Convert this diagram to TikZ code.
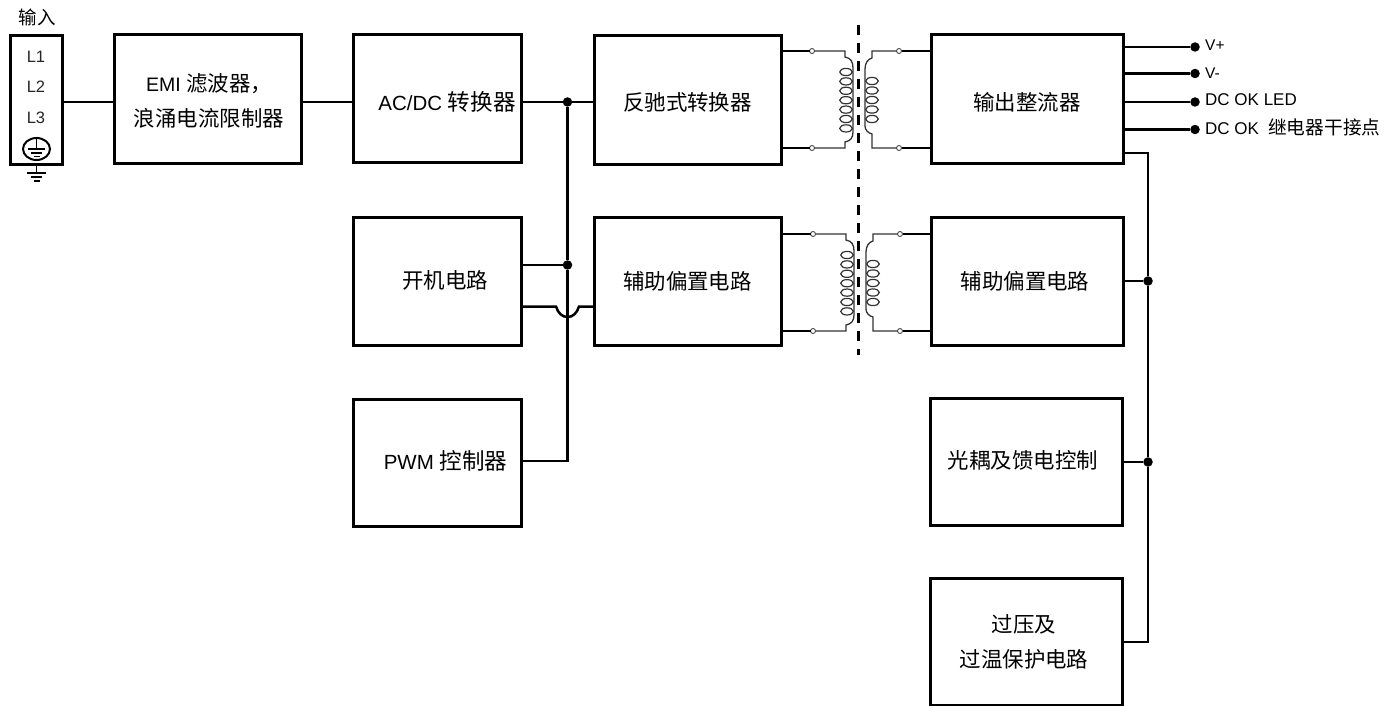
\documentclass[tikz,border=0pt]{standalone}
\usepackage{fontspec}
\usetikzlibrary{shapes.geometric}
\setmainfont{Liberation Sans}
\newfontfamily\cjk[Scale=1.1]{Noto Sans CJK SC}
\tikzset{
  x=1pt,y=-1pt,
  blk/.style={draw=black,line width=3pt,fill=white,minimum width=#1,inner sep=0pt,outer sep=0pt},
  lbl/.style={inner sep=0pt,outer sep=0pt,align=center,font=\fontsize{19.5}{34.5}\selectfont},
  lblw/.style={lbl,font=\fontsize{20.5}{34.5}\selectfont},
  wire/.style={line width=2.7pt,draw=black},
  vwire/.style={line width=2.5pt,draw=black},
  thinw/.style={line width=1.3pt,draw=black!80},
  coil/.style={line width=1.2pt,draw=black!80},
  dot/.style={circle,fill=black,inner sep=0pt,minimum size=9.5pt,outer sep=0pt},
  sdot/.style={circle,fill=black,inner sep=0pt,minimum size=9.5pt,outer sep=0pt},
  term/.style={circle,draw=black!70,fill=white,line width=.9pt,inner sep=0pt,minimum size=5pt,outer sep=0pt},
  lead/.style={anchor=west,inner sep=0pt,font=\fontsize{15.5}{18}\selectfont},
  pin/.style={inner sep=0pt,font=\fontsize{16.5}{18}\selectfont,text=black!85},
  sym/.style={line width=1.8pt},
}
% #1 prefix, #2 y-shift, #3 x-shift
\newcommand{\xfmr}[3]{%
  \begin{scope}[shift={(#3,#2)}]
    \node[term] (#1la) at (812,51) {};
    \node[term] (#1lb) at (812,148) {};
    \node[term] (#1ra) at (899,51) {};
    \node[term] (#1rb) at (899,148) {};
    \draw[thinw] (#1la) -- (845,51) -- (845,57) .. controls (851,58) and (853,62) .. (853,68) -- (853,132) .. controls (853,137) and (851,141) .. (845,142) -- (845,148) -- (#1lb);
    \draw[thinw] (#1ra) -- (872,51) -- (872,58) .. controls (868,59) and (865,63) .. (865,69) -- (865,126) .. controls (865,130) and (868,133) .. (872,134) -- (872,148) -- (#1rb);
    \foreach \yy in {72,81.4,90.8,100.2,109.6,119,128.4} \draw[coil] (846,\yy) ellipse [x radius=6.3,y radius=3.6];
    \foreach \yy in {81,90.5,100,109.5,119} \draw[coil] (872,\yy) ellipse [x radius=6.3,y radius=3.6];
  \end{scope}}
\begin{document}
\begin{tikzpicture}
\useasboundingbox (0,0) rectangle (1396,706);
\fill[white] (0,0) rectangle (1396,706);

% boxes
\node[blk=52pt,minimum height=128pt] (inp) at (36,100) {};
\node[blk=187pt,minimum height=128pt,label={[lbl,xshift=1.5pt,yshift=-2pt]center:{EMI {\cjk 滤波器}{\cjk ，}\\{\cjk 浪涌电流限制器}}}] (emi) at (207.5,99) {};
\node[blk=168pt,minimum height=128pt,label={[lblw,xshift=10pt,yshift=-3pt]center:{AC/DC {\cjk 转换器}}}] (acdc) at (437,98.5) {};
\node[blk=187pt,minimum height=128pt,label={[lbl,yshift=-2pt]center:{\cjk 反驰式转换器}}] (fly) at (687.5,100) {};
\node[blk=192pt,minimum height=128pt,label={[lbl,yshift=-3pt]center:{\cjk 输出整流器}}] (rect) at (1027,99) {};
\node[blk=168pt,minimum height=128pt,label={[lbl,xshift=8pt,yshift=1pt]center:{\cjk 开机电路}}] (start) at (437,281.5) {};
\node[blk=187pt,minimum height=128pt,label={[lbl]center:{\cjk 辅助偏置电路}}] (auxl) at (687.5,281) {};
\node[blk=192pt,minimum height=128pt,label={[lbl,xshift=-2pt]center:{\cjk 辅助偏置电路}}] (auxr) at (1027,281) {};
\node[blk=168pt,minimum height=127pt,label={[lblw,xshift=8.5pt,yshift=2pt]center:{PWM {\cjk 控制器}}}] (pwm) at (437,462.5) {};
\node[blk=192pt,minimum height=127pt,label={[lbl,xshift=-3pt,yshift=2pt]center:{\cjk 光耦及馈电控制}}] (opto) at (1026,462) {};
\node[blk=192pt,minimum height=127pt,label={[lbl,xshift=-2pt]center:{{\cjk 过压及}\\{\cjk 过温保护电路}}}] (ovp) at (1026,642) {};

% input terminal
\node[inner sep=0pt,font=\fontsize{16.8}{18}\cjk] (inlab) at (37,17) {输入};
\node[pin] (l1) at (36,57) {L1};
\node[pin] (l2) at (36,87) {L2};
\node[pin] (l3) at (36,118) {L3};
\node[draw=black,line width=2pt,ellipse,minimum width=27pt,minimum height=22pt,inner sep=0pt] (pe) at (36.5,149) {};
\draw[sym] (pe.north) -- (36.5,149);
\draw[sym] (28,149) -- (45,149);
\draw[sym] (31,153) -- (42,153);
\draw[sym] (33.5,156.5) -- (39.5,156.5);
\coordinate (gnd) at (36.5,173);
\draw[sym] (inp.south) ++(0.5,0) -- (gnd);
\draw[sym] (27,173) -- (46,173);
\draw[sym] (31,177) -- (42,177);
\draw[sym] (33.5,181) -- (39.5,181);

% levels
\coordinate (y1) at (0,102);
\coordinate (y2) at (0,265);
\coordinate (y3) at (0,306.5);
\coordinate (y4) at (0,461);
\coordinate (b) at (1148,153);

% left side wiring
\draw[wire] (inp.east |- y1) -- (emi.west |- y1);
\draw[wire] (emi.east |- y1) -- (acdc.west |- y1);
\draw[wire] (acdc.east |- y1) -- (fly.west |- y1);
\node[dot] (j1) at (567.5,102) {};
\node[dot] (j2) at (567.5,265) {};
\draw[vwire] (j1) -- (j2) -- (567.5,461) -- (pwm.east |- y4);
\draw[wire] (start.east |- y2) -- (j2);
\draw[vwire] (start.east |- y3) -- (556,306.5) .. controls (558,313) and (562,317) .. (567.5,317) .. controls (573,317) and (577,313) .. (579,306.5) -- (auxl.west |- y3);

% transformers
\xfmr{t}{0}{0}
\xfmr{u}{183}{1}
\draw[wire] (fly.east |- tla) -- (tla);
\draw[wire] (fly.east |- tlb) -- (tlb);
\draw[wire] (rect.west |- tra) -- (tra);
\draw[wire] (rect.west |- trb) -- (trb);
\draw[wire] (auxl.east |- ula) -- (ula);
\draw[wire] (auxl.east |- ulb) -- (ulb);
\draw[wire] (auxr.west |- ura) -- (ura);
\draw[wire] (auxr.west |- urb) -- (urb);
\coordinate (ds) at (858.5,25);
\coordinate (de) at (858.5,355);
\draw[line width=3pt,dash pattern=on 10pt off 8pt] (ds) -- (de);

% outputs
\node[sdot] (o1) at (1195,47) {};
\node[sdot] (o2) at (1195,73.5) {};
\node[sdot] (o3) at (1195,102) {};
\node[sdot] (o4) at (1195,129.5) {};
\draw[wire] (rect.east |- o1) -- (o1);
\draw[wire] (rect.east |- o2) -- (o2);
\draw[wire] (rect.east |- o3) -- (o3);
\draw[wire] (rect.east |- o4) -- (o4);
\node[lead] (t1) at (1205,45) {V+};
\node[lead] (t2) at (1205,73) {V-};
\node[lead,font=\fontsize{17}{18}\selectfont] (t3) at (1205,100) {DC OK LED};
\node[lead,font=\fontsize{17}{18}\selectfont] (t4) at (1205,129) {DC OK};
\node[lead,font=\fontsize{17}{18}\cjk] (t5) at (1268,127) {继电器干接点};

% right bus
\node[dot] (j3) at (1148,281) {};
\node[dot] (j4) at (1148,462) {};
\draw[vwire] (rect.east |- b) -- (b) -- (j3) -- (j4) -- (1148,642) -- (ovp.east |- 0,642);
\draw[wire] (auxr.east |- j3) -- (j3);
\draw[wire] (opto.east |- j4) -- (j4);
\end{tikzpicture}
\end{document}
